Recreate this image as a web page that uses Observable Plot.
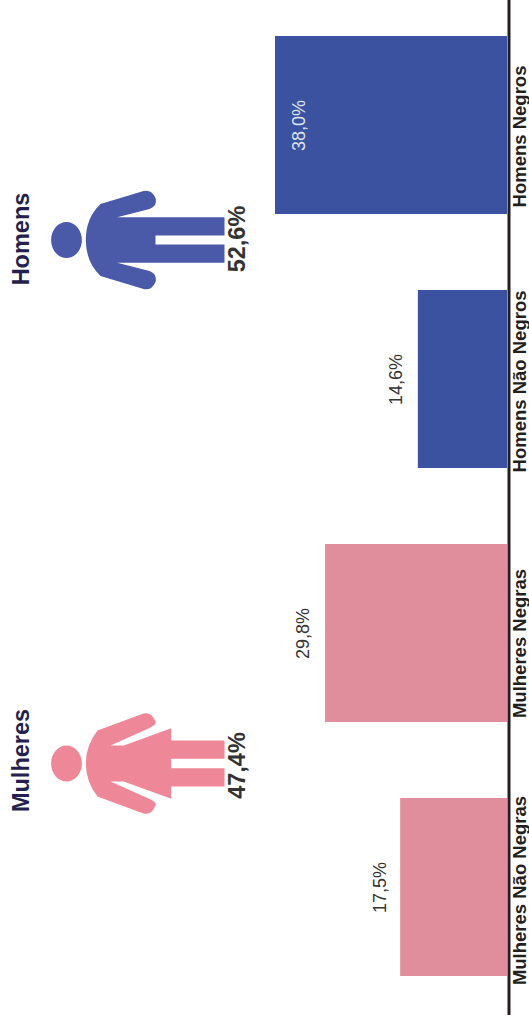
<!DOCTYPE html>
<html lang="pt">
<head>
<meta charset="utf-8">
<script src="https://cdn.jsdelivr.net/npm/d3@7"></script>
<script src="https://cdn.jsdelivr.net/npm/@observablehq/plot@0.6"></script>
<style>
html,body{margin:0;padding:0;background:#fff;overflow:hidden}
svg{display:block}
</style>
</head>
<body>
<div id="chart"></div>
<script>
// Data, top to bottom on the rotated page
const categories = ["Homens Negros", "Homens Não Negros", "Mulheres Negras", "Mulheres Não Negras"];
const shares = [38.0, 14.6, 29.8, 17.5];
const shareLabels = ["38,0%", "14,6%", "29,8%", "17,5%"];
const groups = ["Homens", "Mulheres"];
const groupTotals = ["52,6%", "47,4%"];

const BLUE = "#3b52a1", PINK = "#e08e9c";
const barFill = [BLUE, BLUE, PINK, PINK];
const labelFill = ["#dfe3ee", "#333333", "#333333", "#333333"];
const labelDx = [24, -22, -22, -20];
const categoryDy = [11, 2, 10, 3];
const rows = categories.map((category, i) => ({
  category, share: shares[i], label: shareLabels[i],
  fill: barFill[i], labelFill: labelFill[i], labelDx: labelDx[i], dy: categoryDy[i]
}));

function head(c) {
  const x = -84, rx = 15.4, ry = 18, k = 0.5523;
  c.moveTo(x + rx, 0);
  c.bezierCurveTo(x + rx, k * ry, x + k * rx, ry, x, ry);
  c.bezierCurveTo(x - k * rx, ry, x - rx, k * ry, x - rx, 0);
  c.bezierCurveTo(x - rx, -k * ry, x - k * rx, -ry, x, -ry);
  c.bezierCurveTo(x + k * rx, -ry, x + rx, -k * ry, x + rx, 0);
  c.closePath();
}
// Pictograms, drawn around the centre of the body
const manIcon = {
  draw(c) {
    head(c);
    c.moveTo(74, 4.6); c.lineTo(74, 22.8); c.lineTo(-33.3, 22.8); c.lineTo(-1, 31);
    c.quadraticCurveTo(7, 34, 5, 42); c.quadraticCurveTo(1, 51, -7, 49);
    c.lineTo(-50, 36); c.quadraticCurveTo(-64.7, 22, -64.7, 0); c.quadraticCurveTo(-64.7, -22, -50, -36);
    c.lineTo(-7, -49); c.quadraticCurveTo(1, -51, 5, -42); c.quadraticCurveTo(7, -34, -1, -31);
    c.lineTo(-33.3, -22.8); c.lineTo(74, -22.8); c.lineTo(74, -4.6); c.lineTo(5, -4.6); c.lineTo(5, 4.6);
    c.closePath();
  }
};
const womanIcon = {
  draw(c) {
    head(c);
    c.moveTo(74, 4.7); c.lineTo(74, 23); c.lineTo(20.7, 23); c.lineTo(20.7, 35.3); c.lineTo(-26.7, 18);
    c.lineTo(-40, 18); c.lineTo(-2, 35); c.quadraticCurveTo(7, 39, 5, 42); c.quadraticCurveTo(1, 52, -7, 50);
    c.lineTo(-53, 33); c.quadraticCurveTo(-64.7, 18, -64.7, 0); c.quadraticCurveTo(-64.7, -18, -53, -33);
    c.lineTo(-7, -50); c.quadraticCurveTo(1, -52, 5, -42); c.quadraticCurveTo(7, -39, -2, -35);
    c.lineTo(-40, -18); c.lineTo(-26.7, -18); c.lineTo(20.7, -35.3); c.lineTo(20.7, -23); c.lineTo(74, -23);
    c.lineTo(74, -4.7); c.lineTo(20.7, -4.7); c.lineTo(20.7, 4.7);
    c.closePath();
  }
};

const sans = "'Liberation Sans', Arial, sans-serif";
const note = (text, px, py, opts) => Plot.text([text], {
  text: d => d, frameAnchor: "top-left", dx: px, dy: py, rotate: -90,
  textAnchor: "middle", lineAnchor: "middle",
  fontFamily: sans, fontWeight: "bold", ...opts
});
const icon = (symbol, fill, py) => Plot.dot([0], {
  frameAnchor: "top-left", dx: 150, dy: py, r: 10, symbol, fill, stroke: "none"
});

const plot = Plot.plot({
  width: 529, height: 1024,
  marginTop: 0, marginRight: 0, marginBottom: 9, marginLeft: 0,
  style: {background: "#fff", fontFamily: sans},
  x: {domain: [0, 83.05], range: [507, 0], axis: null},
  y: {domain: categories, range: [-2.1, 1013.9], paddingInner: 0.3, paddingOuter: 0.15, axis: null},
  marks: [
    Plot.barX(rows, {x: "share", y: "category", fill: "fill"}),
    Plot.ruleX([0], {stroke: "#231f20", strokeWidth: 3, dx: 1.5}),
    ...rows.map(r => Plot.text([r], {
      x: "share", y: "category", text: "label", rotate: -90, dx: r.labelDx,
      fill: r.labelFill, fontSize: 18, fontFamily: sans
    })),
    ...rows.map(r => Plot.text([r], {
      x: 0, y: "category", text: "category", rotate: -90, dx: 13, dy: r.dy,
      fill: "#231f20", fontSize: 18.5, fontWeight: "bold", fontFamily: sans
    })),
    icon(manIcon, "#4a5aa8", 239.5),
    icon(womanIcon, "#ee8797", 763),
    note(groups[0], 21, 238.5, {fontSize: 23.5, fill: "#231f4f"}),
    note(groups[1], 21, 760, {fontSize: 23.5, fill: "#231f4f"}),
    note(groupTotals[0], 237, 238.5, {fontSize: 23.5, fill: "#333333"}),
    note(groupTotals[1], 237, 765, {fontSize: 23.5, fill: "#333333"})
  ]
});
document.getElementById("chart").append(plot);
</script>
</body>
</html>
